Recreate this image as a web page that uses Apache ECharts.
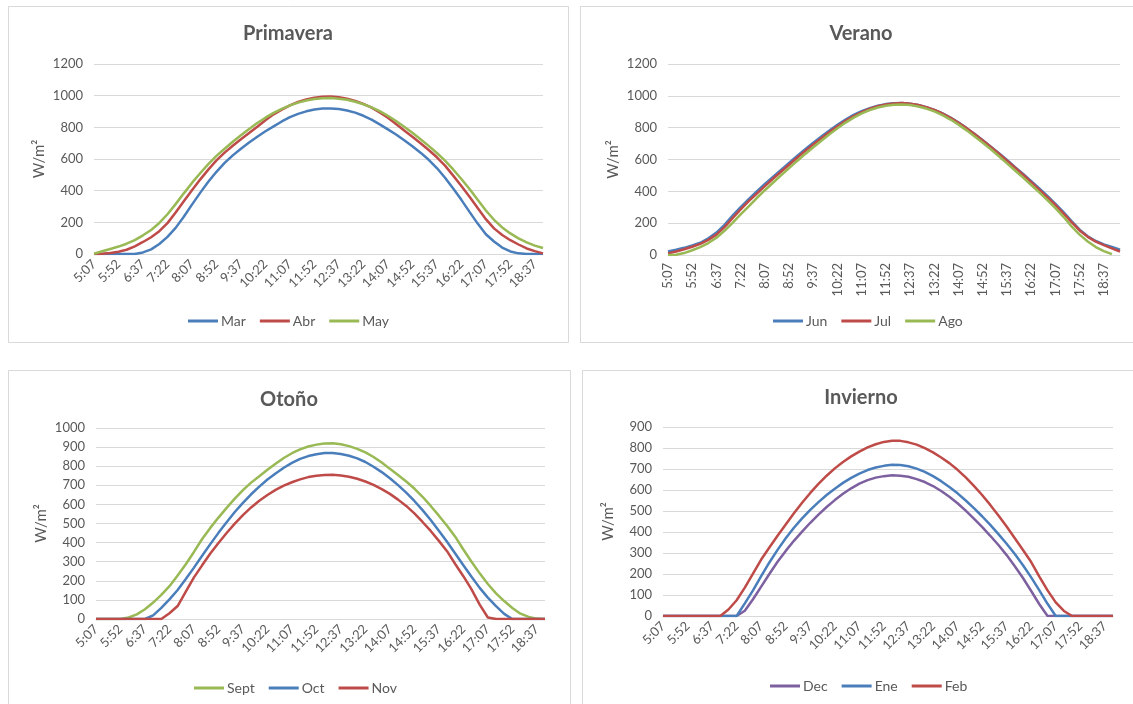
<!DOCTYPE html>
<html>
<head>
<meta charset="utf-8">
<script src="https://cdn.jsdelivr.net/npm/echarts@6/dist/echarts.min.js"></script>
<style>
html,body{margin:0;padding:0;background:#fff;}
#c{width:1133px;height:704px;}
</style>
</head>
<body>
<div id="c"></div>
<script>
// Time categories (15-min steps)
const times = ['5:07','5:22','5:37','5:52','6:07','6:22','6:37','6:52','7:07','7:22','7:37','7:52','8:07','8:22','8:37','8:52','9:07','9:22','9:37','9:52','10:07','10:22','10:37','10:52','11:07','11:22','11:37','11:52','12:07','12:22','12:37','12:52','13:07','13:22','13:37','13:52','14:07','14:22','14:37','14:52','15:07','15:22','15:37','15:52','16:07','16:22','16:37','16:52','17:07','17:22','17:37','17:52','18:07','18:22','18:37','18:52','19:07'];

// Primavera
const mar = [0,0,0,0,0,0,10,29,63,108,165,235,312,386,456,519,575,623,665,704,741,775,806,837,864,885,901,913,919,919,916,906,893,873,849,819,787,755,719,681,640,595,543,482,414,342,266,192,125,79,41,16,4,0,0,0];
const abr = [0,1,6,14,27,48,76,106,144,195,262,333,403,470,533,591,640,684,725,764,804,845,882,912,939,960,976,987,993,994,990,981,967,948,924,894,861,821,780,741,700,657,611,558,495,430,362,290,220,162,120,87,60,35,18,4];
const may = [2,17,32,47,65,88,118,152,196,251,315,383,449,510,568,620,665,709,750,790,827,861,891,917,939,956,969,979,984,985,981,974,962,946,926,902,873,840,804,766,725,683,638,590,534,474,410,342,275,216,168,130,99,73,53,38];

// Verano
const jun = [22,33,45,60,77,105,141,189,247,301,351,399,446,491,535,579,623,665,706,744,782,818,851,880,904,923,938,948,954,955,951,942,929,912,890,863,832,797,760,721,681,640,597,552,509,464,418,371,321,269,213,159,118,88,67,51,33];
const jul = [10,22,36,52,70,95,128,175,232,287,338,386,433,479,523,567,611,654,695,734,772,809,843,873,898,919,935,946,952,955,951,942,929,911,889,862,831,796,758,719,678,636,593,548,504,458,411,363,314,262,207,154,114,84,62,42,22];
const ago = [0,2,12,30,50,75,108,152,202,255,305,358,407,454,500,546,591,635,677,718,758,796,832,863,890,911,927,938,944,946,942,933,920,902,879,851,819,783,745,705,664,620,576,531,486,440,393,345,295,240,180,128,85,50,24,5,null];

// Otoño
const sept = [0,0,0,0,8,24,51,86,126,172,228,287,351,419,477,531,582,630,675,714,747,781,813,843,868,888,903,913,919,920,915,905,891,872,848,819,786,754,720,683,640,592,541,488,431,364,300,239,183,134,94,58,28,11,2,0];
const oct = [0,0,0,0,0,0,0,19,58,103,152,209,269,331,392,451,507,560,608,653,693,730,762,792,817,838,853,863,869,869,864,855,841,822,797,769,737,701,662,618,570,518,462,404,343,281,221,163,112,67,27,0,0,0,0,0];
const nov = [0,0,0,0,0,0,0,0,0,30,68,143,218,281,343,398,450,499,544,584,619,649,676,698,716,731,743,750,754,755,751,745,734,720,702,680,655,625,592,553,508,461,409,355,288,224,155,75,8,0,0,0,0,0,0,0];

// Invierno
const dec = [0,0,0,0,0,0,0,0,0,0,25,80,140,200,258,310,358,402,444,483,519,552,582,608,630,647,659,666,670,668,663,652,638,619,595,568,537,502,464,424,382,338,290,237,181,119,56,0,0,0,0,0,0,0,0,0];
const ene = [0,0,0,0,0,0,0,0,0,0,60,122,190,255,315,370,420,465,505,542,576,606,634,658,678,695,707,715,720,719,713,702,686,666,642,614,584,550,514,475,434,390,344,295,242,184,122,58,0,0,0,0,0,0,0,0];
const feb = [0,0,0,0,0,0,0,0,31,75,135,202,269,326,382,436,489,539,586,629,668,703,733,760,783,803,818,829,834,834,827,816,799,779,755,728,696,660,620,576,529,479,426,370,314,257,188,122,65,24,0,0,0,0,0,0];

const BLUE='#4A7EBB', RED='#BE4B48', GREEN='#98B954', PURPLE='#7D60A0';
const TXT='#595959', GRID='#D9D9D9', FONT='Lato, "Open Sans", sans-serif';

const panels = [
  {title:'Primavera', tx:283, ty:19, box:[8.5,6.5,560,336], grid:{left:94,top:64,width:449,height:190}, n:56, ymax:1200, yint:200, rot:45,
   series:[['Mar',mar,BLUE],['Abr',abr,RED],['May',may,GREEN]], lg:{left:183,top:309}},
  {title:'Verano', tx:856, ty:19, box:[580.5,6.5,560,336], grid:{left:668,top:64,width:452,height:191}, n:57, ymax:1200, yint:200, rot:90,
   series:[['Jun',jun,BLUE],['Jul',jul,RED],['Ago',ago,GREEN]], lg:{left:768,top:309}},
  {title:'Otoño', tx:284, ty:385, box:[8.5,370.5,562,340], grid:{left:96,top:428,width:449,height:191}, n:56, ymax:1000, yint:100, rot:45,
   series:[['Sept',sept,GREEN],['Oct',oct,BLUE],['Nov',nov,RED]], lg:{left:189,top:676}},
  {title:'Invierno', tx:856, ty:383, box:[582.5,370.5,560,340], grid:{left:663,top:427,width:450,height:189}, n:56, ymax:900, yint:100, rot:45,
   series:[['Dec',dec,PURPLE],['Ene',ene,BLUE],['Feb',feb,RED]], lg:{left:765,top:674}}
];

const option = {backgroundColor:'#fff', animation:false, title:[], grid:[], xAxis:[], yAxis:[], legend:[], series:[], graphic:[]};
panels.forEach((p,k)=>{
  option.graphic.push({type:'rect', silent:true, z:-10, shape:{x:p.box[0],y:p.box[1],width:p.box[2],height:p.box[3]}, style:{fill:'#fff',stroke:GRID,lineWidth:1}});
  option.title.push({text:p.title, left:p.tx, top:p.ty, textAlign:'center', textStyle:{fontFamily:FONT,fontSize:20,fontWeight:'bold',color:TXT}});
  option.grid.push(Object.assign({containLabel:false}, p.grid));
  option.xAxis.push({type:'category', gridIndex:k, data:times.slice(0,p.n), boundaryGap:false,
    axisLine:{lineStyle:{color:GRID,width:1}}, axisTick:{show:false},
    axisLabel:{interval:2, rotate:p.rot, color:TXT, fontFamily:FONT, fontSize:13, margin:8}, splitLine:{show:false}});
  option.yAxis.push({type:'value', gridIndex:k, min:0, max:p.ymax, interval:p.yint,
    name:'W/m²', nameLocation:'middle', nameGap:47, nameRotate:90, nameTextStyle:{color:TXT,fontFamily:FONT,fontSize:15},
    axisLine:{show:false}, axisTick:{show:false},
    axisLabel:{color:TXT, fontFamily:FONT, fontSize:13, margin:11, formatter:v=>String(v)},
    splitLine:{lineStyle:{color:GRID,width:1}}});
  option.legend.push({data:p.series.map(s=>s[0]), left:p.lg.left, top:p.lg.top, icon:'rect', itemWidth:30, itemHeight:3, itemGap:14,
    textStyle:{color:TXT,fontFamily:FONT,fontSize:14, padding:[0,0,0,-2]}});
  p.series.forEach(s=>{
    option.series.push({name:s[0], type:'line', xAxisIndex:k, yAxisIndex:k, data:s[1], symbol:'none', showSymbol:false,
      lineStyle:{color:s[2], width:2.5}, itemStyle:{color:s[2]}, connectNulls:false});
  });
});
const chart = echarts.init(document.getElementById('c'), null, {renderer:'canvas'});
chart.setOption(option);
</script>
</body>
</html>
